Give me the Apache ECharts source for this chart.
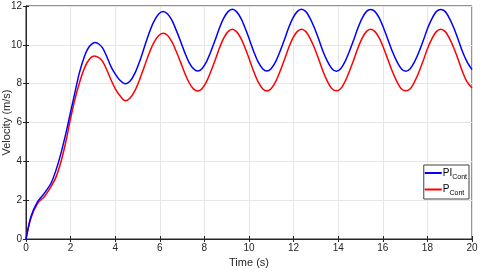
<!DOCTYPE html>
<html><head><meta charset="utf-8">
<script src="https://cdn.jsdelivr.net/npm/echarts@6/dist/echarts.min.js"></script>
<style>html,body{margin:0;padding:0;background:#fff}#c{width:480px;height:271px}</style>
</head><body><div id="c"></div>
<script>
const xTicks = [0,2,4,6,8,10,12,14,16,18,20];
const yTicks = [0,2,4,6,8,10,12];
const seriesNames = ['PI', 'P'];
const piData = [[0,0],[0.22,1.15],[0.52,1.92],[0.82,2.35],[1.12,2.87],[1.35,3.56],[1.57,4.42],[1.79,5.45],[1.97,6.39],[2.17,7.42],[2.39,8.54],[2.62,9.4],[2.84,9.91],[3.11,10.12],[3.28,10.03],[3.44,9.83],[3.62,9.4],[3.81,8.88],[4.0,8.5],[4.19,8.2],[4.45,7.99],
[4.66,8.12],[4.88,8.53],[5.09,9.13],[5.3,9.85],[5.51,10.57],[5.72,11.17],[5.94,11.58],[6.15,11.72],
[6.34,11.6],[6.54,11.27],[6.73,10.77],[6.93,10.19],[7.12,9.6],[7.31,9.1],[7.51,8.77],[7.7,8.65],
[7.89,8.77],[8.09,9.12],[8.28,9.63],[8.48,10.24],[8.67,10.85],[8.86,11.36],[9.06,11.71],[9.25,11.83],
[9.44,11.71],[9.64,11.36],[9.83,10.85],[10.03,10.24],[10.22,9.63],[10.41,9.12],[10.61,8.77],[10.8,8.65],
[10.99,8.77],[11.19,9.12],[11.38,9.63],[11.58,10.24],[11.77,10.85],[11.96,11.36],[12.16,11.71],[12.35,11.83],
[12.55,11.71],[12.74,11.36],[12.94,10.85],[13.14,10.24],[13.33,9.63],[13.53,9.12],[13.72,8.77],[13.92,8.64],
[14.11,8.77],[14.3,9.12],[14.49,9.63],[14.69,10.24],[14.88,10.85],[15.07,11.36],[15.26,11.71],[15.45,11.82],
[15.65,11.71],[15.85,11.36],[16.04,10.85],[16.24,10.24],[16.44,9.63],[16.64,9.12],[16.83,8.77],[17.03,8.64],
[17.23,8.77],[17.42,9.12],[17.62,9.63],[17.82,10.24],[18.01,10.85],[18.21,11.36],[18.4,11.71],[18.6,11.82],
[18.8,11.71],[18.99,11.36],[19.19,10.85],[19.39,10.24],[19.58,9.63],[19.78,9.12],[20,8.72]];
const pData = [[0,0],[0.22,1.07],[0.52,1.84],[0.82,2.18],[1.12,2.7],[1.35,3.2],[1.57,3.99],[1.79,5.02],[1.97,6.05],[2.17,7.08],[2.39,8.02],[2.62,8.8],[2.84,9.26],[3.06,9.42],[3.28,9.33],[3.44,9.14],[3.62,8.72],[3.81,8.2],[4.0,7.75],[4.19,7.42],[4.45,7.12],
[4.66,7.25],[4.88,7.63],[5.09,8.19],[5.3,8.86],[5.51,9.53],[5.72,10.09],[5.94,10.47],[6.15,10.6],
[6.34,10.49],[6.54,10.16],[6.73,9.68],[6.93,9.11],[7.12,8.54],[7.31,8.06],[7.51,7.73],[7.7,7.62],
[7.89,7.74],[8.09,8.09],[8.28,8.6],[8.48,9.21],[8.67,9.82],[8.86,10.33],[9.06,10.68],[9.25,10.8],
[9.44,10.68],[9.64,10.33],[9.83,9.82],[10.03,9.21],[10.22,8.6],[10.41,8.09],[10.61,7.74],[10.8,7.62],
[10.99,7.74],[11.19,8.09],[11.38,8.6],[11.58,9.21],[11.77,9.82],[11.96,10.33],[12.16,10.68],[12.35,10.8],
[12.55,10.68],[12.74,10.33],[12.94,9.82],[13.14,9.21],[13.33,8.6],[13.53,8.09],[13.72,7.74],[13.92,7.63],
[14.11,7.74],[14.3,8.09],[14.49,8.6],[14.69,9.21],[14.88,9.82],[15.07,10.33],[15.26,10.68],[15.45,10.8],
[15.65,10.68],[15.85,10.33],[16.04,9.82],[16.24,9.21],[16.44,8.6],[16.64,8.09],[16.83,7.74],[17.03,7.63],
[17.23,7.74],[17.42,8.09],[17.62,8.6],[17.82,9.21],[18.01,9.82],[18.21,10.33],[18.4,10.68],[18.6,10.8],
[18.8,10.68],[18.99,10.33],[19.19,9.82],[19.39,9.21],[19.58,8.6],[19.78,8.09],[20,7.78]];

const chart = echarts.init(document.getElementById('c'), null, {renderer:'canvas'});
const font = 'Liberation Sans, Arial, sans-serif';
const axCol = '#262626';
chart.setOption({
  animation:false,
  backgroundColor:'#fff',
  grid:{left:26,right:8,top:6,bottom:32,show:true,borderColor:axCol,borderWidth:1,containLabel:false,outerBoundsMode:'none'},
  legend:{
    right:11, top:165, orient:'vertical',
    backgroundColor:'#fff', borderColor:'#404040', borderWidth:1, borderRadius:0,
    padding:[3,2,2,1], itemGap:4, itemWidth:17, itemHeight:2,
    data:[{name:'PI',icon:'rect'},{name:'P',icon:'rect'}],
    formatter:function(n){return '{a|'+n+'}{b|Cont}';},
    textStyle:{color:'#000',fontFamily:font,rich:{a:{fontSize:10,fontFamily:font,color:'#000',padding:[0,0,0,-4]},b:{fontSize:7,fontFamily:font,color:'#000',padding:[8,0,0,0]}}}
  },
  xAxis:[{
    type:'value', min:0, max:20, interval:2,
    name:'Time (s)', nameLocation:'middle', nameGap:18, nameMoveOverlap:false,
    nameTextStyle:{fontFamily:font,fontSize:11,color:axCol},
    axisLine:{show:true,lineStyle:{color:axCol}},
    axisTick:{show:true,inside:true,length:3,lineStyle:{color:axCol}},
    axisLabel:{fontFamily:font,fontSize:10,color:axCol,margin:4},
    splitLine:{show:true,lineStyle:{color:'#e6e6e6',width:1}}
  },{
    type:'value', min:0, max:20, interval:2, position:'top',
    axisLine:{show:true,lineStyle:{color:axCol}},
    axisTick:{show:true,inside:true,length:3,lineStyle:{color:axCol}},
    axisLabel:{show:false}, splitLine:{show:false}
  }],
  yAxis:[{
    type:'value', min:0, max:12, interval:2,
    name:'Velocity (m/s)', nameLocation:'middle', nameGap:14, nameMoveOverlap:false,
    nameTextStyle:{fontFamily:font,fontSize:11,color:axCol},
    axisLine:{show:true,lineStyle:{color:axCol}},
    axisTick:{show:true,inside:true,length:3,lineStyle:{color:axCol}},
    axisLabel:{fontFamily:font,fontSize:10,color:axCol,margin:4},
    splitLine:{show:true,lineStyle:{color:'#e6e6e6',width:1}}
  },{
    type:'value', min:0, max:12, interval:2, position:'right',
    axisLine:{show:true,lineStyle:{color:axCol}},
    axisTick:{show:true,inside:true,length:3,lineStyle:{color:axCol}},
    axisLabel:{show:false}, splitLine:{show:false}
  }],
  series:[
    {name:seriesNames[1],type:'line',data:pData,smooth:0.3,showSymbol:false,lineStyle:{color:'#ff0000',width:1.5},itemStyle:{color:'#ff0000'},z:2},
    {name:seriesNames[0],type:'line',data:piData,smooth:0.3,showSymbol:false,lineStyle:{color:'#0000ff',width:1.5},itemStyle:{color:'#0000ff'},z:3}
  ]
});
</script></body></html>
